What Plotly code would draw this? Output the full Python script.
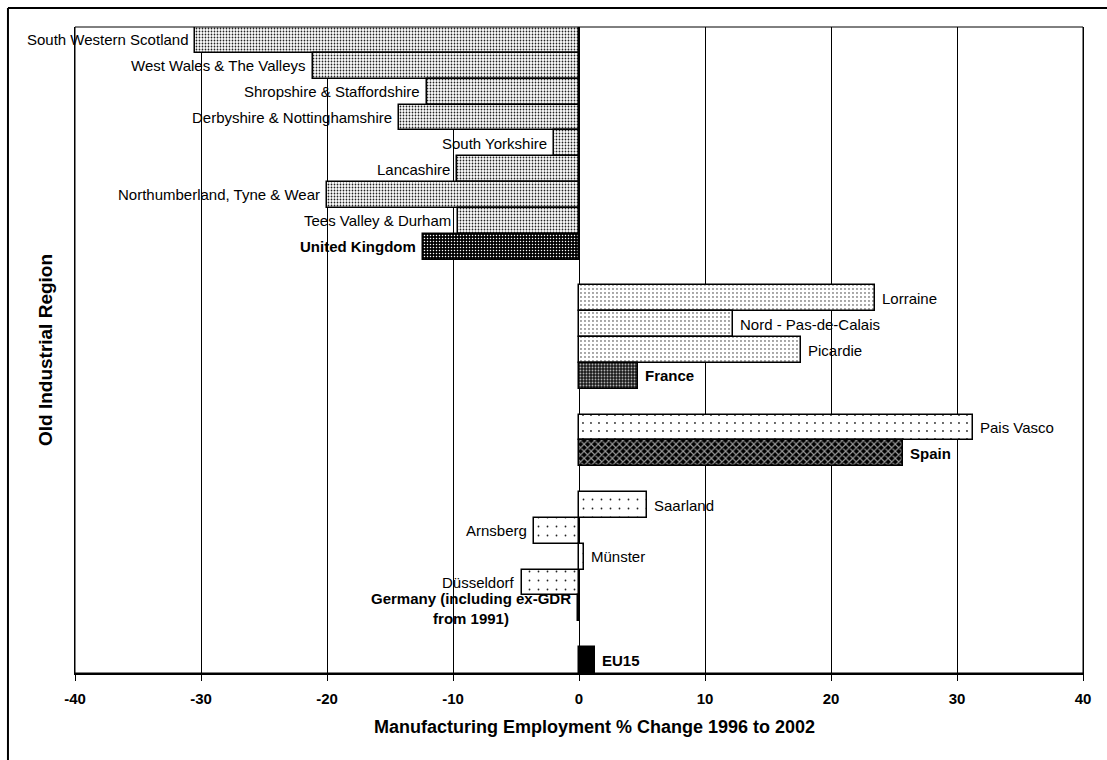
import plotly.graph_objects as go

# ---- data ----
regions = [
    "South Western Scotland", "West Wales & The Valleys", "Shropshire & Staffordshire",
    "Derbyshire & Nottinghamshire", "South Yorkshire", "Lancashire",
    "Northumberland, Tyne & Wear", "Tees Valley & Durham", "United Kingdom",
    " ",
    "Lorraine", "Nord - Pas-de-Calais", "Picardie", "France",
    "  ",
    "Pais Vasco", "Spain",
    "   ",
    "Saarland", "Arnsberg", "Münster", "Düsseldorf",
    "Germany (including ex-GDR from 1991)",
    "    ",
    "EU15",
]
values = [
    -30.5, -21.1, -12.1, -14.3, -2.0, -9.7, -20.0, -9.6, -12.4,
    None,
    23.5, 12.2, 17.6, 4.7,
    None,
    31.3, 25.7,
    None,
    5.4, -3.6, 0.4, -4.5, -0.1,
    None,
    1.3,
]
bar_labels = [
    "South Western Scotland", "West Wales & The Valleys", "Shropshire & Staffordshire",
    "Derbyshire & Nottinghamshire", "South Yorkshire", "Lancashire",
    "Northumberland, Tyne & Wear", "Tees Valley & Durham", "United Kingdom",
    "",
    "Lorraine", "Nord - Pas-de-Calais", "Picardie", "France",
    "",
    "Pais Vasco", "Spain",
    "",
    "Saarland", "Arnsberg", "Münster", "Düsseldorf",
    "Germany (including ex-GDR<br>from 1991)",
    "",
    "EU15",
]
kinds = (["uk_r"] * 8 + ["uk", None, "fr_r", "fr_r", "fr_r", "fr", None, "es_r", "es", None,
          "de_r", "de_r", "de_r", "de_r", "de", None, "eu"])
national = {"uk", "fr", "es", "de", "eu"}

x_ticks = [-40, -30, -20, -10, 0, 10, 20, 30, 40]

# ---- styles ----
styles = {
    "uk_r": dict(bg="white", fg="#222222", shape=".", size=3, sol=0.28),
    "uk":   dict(bg="black", fg="white", shape=".", size=3, sol=0.2),
    "fr_r": dict(bg="white", fg="#222222", shape=".", size=4, sol=0.1),
    "fr":   dict(bg="#1a1a1a", fg="#b0b0b0", shape=".", size=3, sol=0.3),
    "es_r": dict(bg="white", fg="#333333", shape=".", size=8, sol=0.045),
    "es":   dict(bg="black", fg="#9a9a9a", shape="x", size=5, sol=0.4),
    "de_r": dict(bg="white", fg="#222222", shape=".", size=9, sol=0.03),
    "de":   dict(bg="black", fg="black", shape="", size=8, sol=0.3),
    "eu":   dict(bg="black", fg="black", shape="", size=8, sol=0.3),
}

FONT = "Arial, Liberation Sans, sans-serif"

fig = go.Figure()

# spacer trace fixes the category order, including the empty rows
fig.add_trace(go.Bar(
    x=[0] * len(regions), y=regions, orientation="h",
    marker=dict(color="rgba(0,0,0,0)", line=dict(width=0)),
    hoverinfo="skip", showlegend=False,
))

order = ["uk_r", "uk", "fr_r", "fr", "es_r", "es", "de_r", "de", "eu"]
for kind in order:
    st = styles[kind]
    ys = [r for r, k in zip(regions, kinds) if k == kind]
    xs = [v for v, k in zip(values, kinds) if k == kind]
    pattern = dict(shape=st["shape"], size=st["size"], solidity=st["sol"],
                   fgcolor=st["fg"], bgcolor=st["bg"], fillmode="replace")
    fig.add_trace(go.Bar(
        x=xs, y=ys, orientation="h",
        marker=dict(color=st["bg"], line=dict(color="black", width=1.5),
                    pattern=pattern),
        hoverinfo="x+y", showlegend=False,
    ))

annotations = []
for reg, val, lab, k in zip(regions, values, bar_labels, kinds):
    if val is None:
        continue
    neg = val < 0
    annotations.append(dict(
        x=val, y=reg, xref="x", yref="y",
        text=lab, showarrow=False,
        xanchor="right" if neg else "left",
        xshift=-5 if neg else 5,
        align="center",
        font=dict(family=FONT, size=15, color="black",
                  weight="bold" if k in national else "normal"),
    ))

annotations.append(dict(
    x=0.515, y=0, xref="paper", yref="paper", yshift=-54,
    xanchor="center", yanchor="middle", showarrow=False,
    text="Manufacturing Employment % Change 1996 to 2002",
    font=dict(family=FONT, size=18, color="black", weight="bold"),
))

fig.update_layout(
    width=1107, height=760,
    margin=dict(l=75, r=24, t=27, b=87),
    paper_bgcolor="white", plot_bgcolor="white",
    barmode="overlay",
    bargap=0,
    annotations=annotations,
    xaxis=dict(
        range=[-40, 40], tickvals=x_ticks, ticktext=[str(v) for v in x_ticks],
        showgrid=True, gridcolor="black", gridwidth=1,
        zeroline=False,
        showline=True, linecolor="black", linewidth=2,
        ticks="outside", ticklen=6, tickcolor="black", tickwidth=1,
        ticklabelstandoff=5,
        tickfont=dict(family=FONT, size=15, color="black", weight="bold"),
    ),
    yaxis=dict(
        type="category", categoryorder="array", categoryarray=regions,
        range=[len(regions) - 0.5, -0.5],
        showticklabels=False, ticks="", showgrid=False, zeroline=False,
        showline=True, linecolor="black", linewidth=1, mirror=True,
        title=dict(text="Old Industrial Region",
                   font=dict(family=FONT, size=19, color="black", weight="bold"),
                   standoff=16),
    ),
    shapes=[
        dict(type="rect", xref="paper", yref="paper", x0=0, x1=1, y0=0, y1=1,
             line=dict(color="black", width=1), layer="above"),
        dict(type="line", xref="paper", yref="paper",
             x0=-0.0665, x1=-0.0665, y0=-0.2, y1=1.0294,
             line=dict(color="black", width=2)),
        dict(type="line", xref="paper", yref="paper",
             x0=-0.0665, x1=1.1, y0=1.0294, y1=1.0294,
             line=dict(color="black", width=2)),
    ],
)

fig.write_html("out.html")
